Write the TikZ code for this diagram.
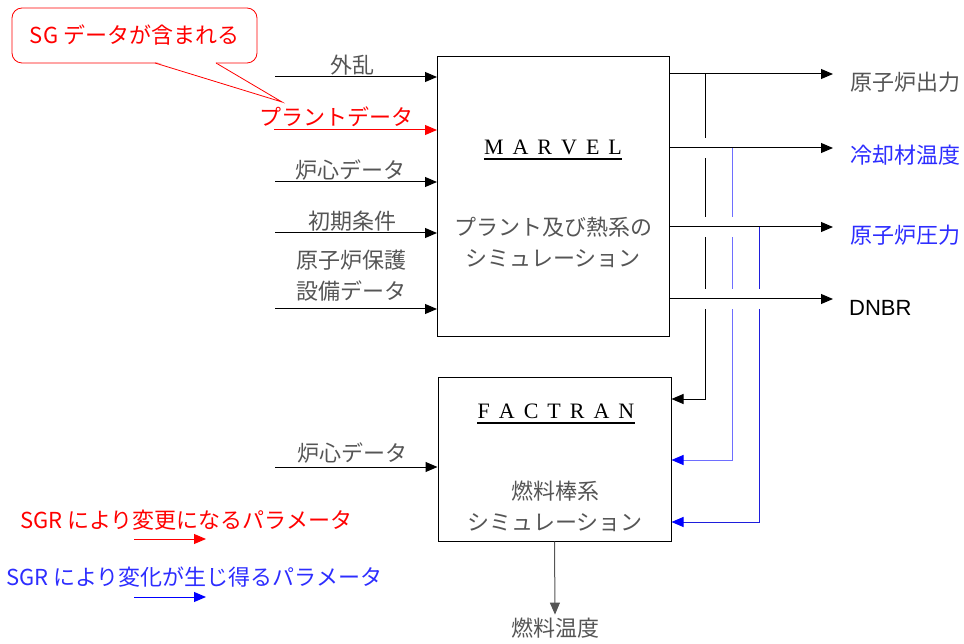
\documentclass[tikz,border=0pt]{standalone}
\usepackage{fontspec}
\setmainfont{Liberation Serif}
\newfontfamily\jp{Noto Sans CJK JP}
\newfontfamily\arial{Liberation Sans}
\usetikzlibrary{arrows.meta,positioning,calc}
\definecolor{txtgray}{RGB}{85,85,85}
\definecolor{sgred}{RGB}{255,0,0}
\definecolor{sgblue}{RGB}{45,45,255}
\definecolor{paleblue}{RGB}{110,110,255}
\definecolor{deepblue}{RGB}{30,30,220}
\newcommand\lsp{\hspace{9pt}}

\begin{document}
\begin{tikzpicture}[x=1pt,y=-1pt,
    arr/.style={-{Triangle[length=12pt,width=10pt]}, line width=1pt},
    arrb/.style={-{Triangle[length=12pt,width=10pt,color=blue]}, line width=1pt},
    lbl/.style={font=\jp\fontsize{22}{31}\selectfont, text=txtgray, inner sep=0pt},
    block/.style={draw, line width=1pt, inner sep=0pt},
    heading/.style={font=\fontsize{22}{24}\selectfont, inner sep=0pt},
    halo/.style={draw=white, line width=20pt}]
\useasboundingbox (0,0) rectangle (964,644);

% simulation blocks
\node[block, minimum width=232pt, minimum height=280pt] (marvel) at (553.5,197) {};
\node[heading] (marvelhd) at (553,147) {M\lsp A\lsp R\lsp V\lsp E\lsp L};
\draw[line width=2pt] ([yshift=-4pt]marvelhd.south west) -- ([yshift=-4pt]marvelhd.south east);
\node[lbl, align=center] (marveltx) at (553,242) {プラント及び熱系の\\シミュレーション};

\node[block, minimum width=233pt, minimum height=164pt] (factran) at (554.5,459) {};
\node[heading] (factranhd) at (556,411) {F\lsp A\lsp C\lsp T\lsp R\lsp A\lsp N};
\draw[line width=2pt] ([yshift=-4pt]factranhd.south west) -- ([yshift=-4pt]factranhd.south east);
\node[lbl, align=center] (factrantx) at (555,506) {燃料棒系\\シミュレーション};

% inputs to MARVEL
\node[lbl] (dist) at (352,65) {外乱};
\coordinate (in1) at (275,77);
\draw[arr] (in1) -- (in1 -| marvel.west);
\node[lbl, text=sgred] (plant) at (336,117) {プラントデータ};
\coordinate (in2) at (274,130);
\draw[arr, sgred] (in2) -- (in2 -| marvel.west);
\node[lbl] (core) at (350,170) {炉心データ};
\coordinate (in3) at (275,182);
\draw[arr] (in3) -- (in3 -| marvel.west);
\node[lbl] (init) at (352,221) {初期条件};
\coordinate (in4) at (275,233);
\draw[arr] (in4) -- (in4 -| marvel.west);
\node[lbl, align=left] (prot) at (351,276) {原子炉保護\\設備データ};
\coordinate (in5) at (275,309);
\draw[arr] (in5) -- (in5 -| marvel.west);

% callout
\node[draw=sgred, line width=0.8pt, rounded corners=10pt, minimum width=245pt, minimum height=55pt,
      font=\jp\fontsize{22}{24}\selectfont, text=sgred] (sgnote) at (134.5,35.5) {SG データが含まれる};
\coordinate (tip) at (282,102);
\fill[white] (156,62) -- (tip) -- (215,62) -- cycle;
\draw[sgred, line width=0.8pt] (155,63) -- (tip) -- (216,63);

% outputs of MARVEL
\node[lbl, anchor=west] (pwr) at (850,82) {原子炉出力};
\node[lbl, anchor=west, text=sgblue] (cool) at (850,155) {冷却材温度};
\node[lbl, anchor=west, text=sgblue] (press) at (850,235) {原子炉圧力};
\node[inner sep=0pt, anchor=west, font=\arial\fontsize{22}{24}\selectfont] (dnbr) at (849,308) {DNBR};

\draw[arr] (marvel.east |- 0,74) -- (833,74);
\draw[arr] (705,74) |- (factran.east |- 0,399);
\draw[halo] (690,148) -- (720,148);
\draw[arr] (marvel.east |- 0,148) -- (833,148);
\draw[arrb, paleblue] (732,148) |- (factran.east |- 0,460);
\draw[halo] (690,227) -- (745,227);
\draw[arr] (marvel.east |- 0,227) -- (833,227);
\draw[arrb, deepblue] (759,227) |- (factran.east |- 0,522);
\draw[halo] (690,299) -- (772,299);
\draw[arr] (marvel.east |- 0,299) -- (833,299);

% FACTRAN input and output
\node[lbl] (core2) at (352,453) {炉心データ};
\coordinate (in6) at (275,467);
\draw[arr] (in6) -- (in6 -| factran.west);
\node[lbl] (fueltemp) at (555,628) {燃料温度};
\draw[arr, txtgray] (factran.south) -- ([yshift=3pt]fueltemp.north);

% legend
\node[lbl, anchor=west, text=sgred] (legred) at (20,520) {SGR により変更になるパラメータ};
\coordinate (lr) at (134,539);
\draw[arr, sgred] (lr) -- ++(72,0);
\node[lbl, anchor=west, text=sgblue] (legblue) at (6,577) {SGR により変化が生じ得るパラメータ};
\coordinate (lb) at (134,597);
\draw[arr, blue] (lb) -- ++(72,0);
\end{tikzpicture}
\end{document}
